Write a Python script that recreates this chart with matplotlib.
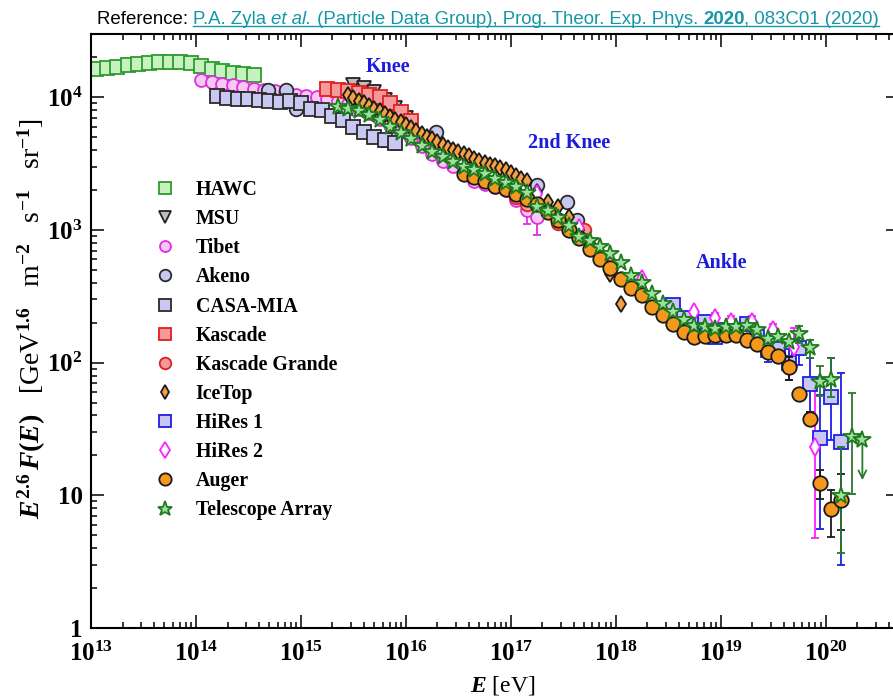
import numpy as np
import matplotlib
matplotlib.use("Agg")
import matplotlib.pyplot as plt
from matplotlib.lines import Line2D

plt.rcParams['font.family'] = ['Liberation Serif', 'DejaVu Serif']
plt.rcParams['font.weight'] = 'bold'
plt.rcParams['mathtext.fontset'] = 'custom'
plt.rcParams['mathtext.rm'] = 'Liberation Serif:bold'
plt.rcParams['mathtext.it'] = 'Liberation Serif:italic:bold'
plt.rcParams['mathtext.bf'] = 'Liberation Serif:bold'

# ---- data: log10(E/eV) and E^2.6 F(E) [GeV^1.6 m^-2 s^-1 sr^-1] ----
hawc_lgE = [13.05, 13.15, 13.25, 13.35, 13.45, 13.55, 13.65, 13.75, 13.85, 13.95,
            14.05, 14.15, 14.25, 14.35, 14.45, 14.55]
hawc_F = [16300, 16600, 17000, 17400, 17800, 18100, 18300, 18400, 18300, 18100,
          17300, 16400, 15700, 15200, 15100, 14700]

msu_lgE = [15.5, 15.6, 15.7, 15.8, 15.9, 16.0]
msu_F = [12300, 11700, 10900, 9490, 8260, 6950]

tibet_lgE = [14.05, 14.15, 14.25, 14.35, 14.45, 14.55, 14.65, 14.75, 14.85, 14.95,
             15.05, 15.15, 15.25, 15.35, 15.45, 15.55, 15.65, 15.75, 15.85, 15.95,
             16.05, 16.15, 16.25, 16.35, 16.45, 16.55, 16.65, 16.75, 16.85, 16.95,
             17.05, 17.15, 17.25]
tibet_F = [13590, 13130, 12690, 12470, 11960, 11630, 11390, 11100, 10810, 10440,
           10260, 10050, 9780, 9410, 8860, 8190, 7580, 6830, 6150, 5550,
           4910, 4270, 3720, 3330, 3050, 2720, 2350, 2210, 2100, 1990,
           1680, 1410, 1250]
tibet_err_lgE = [16.85, 16.95, 17.15, 17.25]
tibet_err_lo = [1900, 1830, 1118, 913]
tibet_err_hi = [2300, 2170, 1560, 1390]

akeno_lgE = [14.69, 14.86, 14.95, 16.29, 17.25, 17.54, 17.63]
akeno_F = [11290, 11290, 8190, 5450, 2170, 1620, 1180]

casa_lgE = [14.2, 14.3, 14.4, 14.5, 14.6, 14.7, 14.8, 14.9, 15.0, 15.1,
            15.2, 15.3, 15.4, 15.5, 15.6, 15.7, 15.8, 15.9]
casa_F = [10170, 9950, 9780, 9660, 9610, 9330, 9220, 9330, 9010, 8120,
          8050, 7260, 6710, 6000, 5450, 5000, 4740, 4500]
casa_err_lgE = [15.8, 15.9]
casa_err_lo = [4200, 3990]
casa_err_hi = [5300, 5050]

kascade_lgE = [15.25, 15.35, 15.45, 15.55, 15.65, 15.75, 15.85, 15.95, 16.05]
kascade_F = [11490, 11390, 11100, 10720, 10350, 10000, 9010, 7780, 6600]

kg_lgE = [17.05, 17.15, 17.45, 17.7, 17.95]
kg_F = [1770, 1560, 1120, 996, 552]

icetop_lgE = [15.45, 15.5, 15.55, 15.6, 15.65, 15.7, 15.75, 15.8, 15.85, 15.9,
              15.95, 16.0, 16.05, 16.1, 16.15, 16.2, 16.25, 16.3, 16.35, 16.4,
              16.45, 16.5, 16.55, 16.6, 16.65, 16.7, 16.75, 16.8, 16.85, 16.9,
              16.95, 17.0, 17.05, 17.1, 17.15, 17.25, 17.35, 17.45, 17.55, 17.65,
              17.75, 17.85, 17.95, 18.05]
icetop_F = [10350, 9880, 9430, 9000, 8580, 8190, 7850, 7490, 7120, 6780,
            6460, 6140, 5840, 5560, 5300, 5050, 4810, 4580, 4360, 4170,
            4020, 3870, 3720, 3580, 3440, 3310, 3210, 3110, 3020, 2930,
            2840, 2700, 2560, 2440, 2320, 1925, 1630, 1500, 1250, 996,
            795, 645, 464, 279]

hires1_lgE = [18.55, 18.65, 18.75, 18.85, 18.95, 19.05, 19.15, 19.25, 19.35, 19.45,
              19.55, 19.65, 19.75, 19.85, 19.95, 20.05, 20.15]
hires1_F = [271, 216, 197, 203, 156, 176, 176, 197, 157, 124,
            126, 98.6, 130, 68.9, 26.9, 55.3, 25.4]
hires1_err_lgE = [19.45, 19.65, 19.75, 19.85, 19.95, 20.05, 20.15]
hires1_err_lo = [101, 73.8, 95.8, 42.6, 5.6, 26.1, 3.0]
hires1_err_hi = [150, 126, 161, 107.5, 57, 107.5, 83.3]

hires2_lgE = [17.25, 17.65, 18.25, 18.75, 18.95, 19.1, 19.3, 19.5, 19.7, 19.9]
hires2_F = [1880, 1030, 426, 240, 217, 203, 203, 176, 131.5, 23.0]
hires2_err_lgE = [18.95, 19.1, 19.3, 19.5, 19.7, 19.9]
hires2_err_lo = [200, 190, 190, 176, 93, 4.74]
hires2_err_hi = [237, 225, 224, 194, 184, 67.7]

auger_lgE = [16.55, 16.65, 16.75, 16.85, 16.95, 17.05, 17.15, 17.25, 17.35, 17.45,
             17.55, 17.65, 17.75, 17.85, 17.95, 18.05, 18.15, 18.25, 18.35, 18.45,
             18.55, 18.65, 18.75, 18.85, 18.95, 19.05, 19.15, 19.25, 19.35, 19.45,
             19.55, 19.65, 19.75, 19.85, 19.95, 20.05, 20.15]
auger_F = [2650, 2500, 2350, 2150, 2030, 1860, 1700, 1580, 1370, 1180,
           996, 874, 716, 602, 520, 426, 367, 322, 264, 230,
           197, 171, 156.5, 158, 161, 161, 161, 148, 138, 121,
           112, 92, 57.9, 37.3, 12.4, 7.88, 9.21]
auger_err_lgE = [19.65, 19.85, 19.95, 20.05, 20.15]
auger_err_lo = [73.8, 33.8, 9.32, 4.87, 5.47]
auger_err_hi = [110.6, 42.6, 15.5, 10.95, 14.6]

ta_lgE = [15.35, 15.45, 15.55, 15.65, 15.75, 15.85, 15.95, 16.05, 16.15, 16.25,
          16.35, 16.45, 16.55, 16.65, 16.75, 16.85, 16.95, 17.05, 17.15, 17.25,
          17.35, 17.45, 17.55, 17.65, 17.75, 17.85, 17.95, 18.05, 18.15, 18.25,
          18.35, 18.45, 18.55, 18.65, 18.75, 18.85, 18.95, 19.05, 19.15, 19.25,
          19.35, 19.45, 19.55, 19.65, 19.75, 19.85, 19.95, 20.05, 20.15, 20.25,
          20.35]
ta_F = [8410, 8120, 7850, 7320, 6710, 6000, 5400, 4830, 4270, 3850,
        3550, 3270, 3000, 2840, 2660, 2410, 2260, 2110, 1900, 1490,
        1390, 1230, 1070, 887, 827, 738, 657, 562, 452, 395,
        332, 279, 241, 209, 188, 186, 179, 186, 186, 188,
        176, 150, 157, 144, 164, 128, 71.7, 73.8, 9.92, 27.6,
        26.1]
ta_err_lgE = [19.75, 19.85, 19.95, 20.05, 20.15, 20.25]
ta_err_lo = [140, 107.5, 56.2, 55.3, 3.65, 10.3]
ta_err_hi = [188, 148, 94.6, 107.5, 23.2, 59.2]
ta_ul_lgE = [20.35]
ta_ul_from = [26.1]
ta_ul_to = [13.0]

x_ticks = [1e13, 1e14, 1e15, 1e16, 1e17, 1e18, 1e19, 1e20]
x_ticklabels = [r'$10^{13}$', r'$10^{14}$', r'$10^{15}$', r'$10^{16}$',
                r'$10^{17}$', r'$10^{18}$', r'$10^{19}$', r'$10^{20}$']
y_ticks = [1, 10, 100, 1000, 10000]
y_ticklabels = ['1', '10', r'$10^{2}$', r'$10^{3}$', r'$10^{4}$']

# ---- figure ----
W, H = 893, 697
fig = plt.figure(figsize=(W / 100, H / 100), dpi=100)
ax = fig.add_axes([91 / W, 69 / H, 808 / W, 594 / H])
ax.set_xscale('log')
ax.set_yscale('log')
ax.set_xlim(1e13, 5e20)
ax.set_ylim(1, 3e4)


def E(lg):
    return 10 ** np.asarray(lg, dtype=float)


def bars(lg, lo, hi, color, z):
    lo = np.asarray(lo, dtype=float)
    hi = np.asarray(hi, dtype=float)
    ax.errorbar(E(lg), lo, yerr=[np.zeros_like(lo), hi - lo], fmt='none',
                ecolor=color, elinewidth=1.3, capsize=3.2, capthick=1.3, zorder=z)


series = [
    # lgE, F, label, marker, size, face, edge
    (hawc_lgE, hawc_F, 'HAWC', 's', 9.4, '#c6f2c0', '#2f9a2f'),
    (msu_lgE, msu_F, 'MSU', 'v', 10.0, '#bdbdbd', '#222222'),
    (tibet_lgE, tibet_F, 'Tibet', 'o', 9.3, '#f7c8f5', '#e02ee0'),
    (akeno_lgE, akeno_F, 'Akeno', 'o', 9.8, '#c8c8ec', '#2a2a33'),
    (casa_lgE, casa_F, 'CASA-MIA', 's', 9.5, '#c8c8f2', '#2a2a2a'),
    (kascade_lgE, kascade_F, 'Kascade', 's', 9.8, '#f59a9a', '#e31e1e'),
    (kg_lgE, kg_F, 'Kascade Grande', 'o', 9.8, '#f59a9a', '#e31e1e'),
    (icetop_lgE, icetop_F, 'IceTop', 'd', 8.2, '#f7a040', '#1a1a1a'),
    (hires1_lgE, hires1_F, 'HiRes 1', 's', 9.8, '#c8c8f8', '#1e1ee6'),
    (hires2_lgE, hires2_F, 'HiRes 2', 'd', 9.0, '#ffffff', '#ff1eff'),
    (auger_lgE, auger_F, 'Auger', 'o', 10.4, '#f7981e', '#1a1a1a'),
    (ta_lgE, ta_F, 'Telescope Array', '*', 13.0, '#9ee09e', '#1d7a1d'),
]

bars(tibet_err_lgE, tibet_err_lo, tibet_err_hi, '#e02ee0', 2.5)
bars(casa_err_lgE, casa_err_lo, casa_err_hi, '#2a2a2a', 4.5)
bars(hires1_err_lgE, hires1_err_lo, hires1_err_hi, '#1e1ee6', 8.5)
bars(hires2_err_lgE, hires2_err_lo, hires2_err_hi, '#ff1eff', 9.5)
bars(auger_err_lgE, auger_err_lo, auger_err_hi, '#1a1a1a', 10.5)
bars(ta_err_lgE, ta_err_lo, ta_err_hi, '#2a7a2a', 11.5)
for lg, f0, f1 in zip(ta_ul_lgE, ta_ul_from, ta_ul_to):
    ax.annotate('', xy=(E(lg), f1), xytext=(E(lg), f0),
                arrowprops=dict(arrowstyle='->', color='#2a7a2a', lw=1.3,
                                mutation_scale=14, shrinkA=0, shrinkB=0),
                zorder=11.5)

for i, (lg, f, lab, m, ms, fc, ec) in enumerate(series):
    ax.plot(E(lg), f, linestyle='none', marker=m, markersize=ms,
            markerfacecolor=fc, markeredgecolor=ec, markeredgewidth=1.3,
            label=lab, zorder=2 + i)

# feature labels
for txt, xe, yf in [('Knee', 6.7e15, 1.68e4), ('2nd Knee', 3.6e17, 4500),
                    ('Ankle', 1.02e19, 562)]:
    ax.text(xe, yf, txt, color='#1c1cdc', fontsize=14.5, ha='center', va='center')

# axes styling
ax.set_xticks(x_ticks)
ax.set_xticklabels(x_ticklabels)
ax.set_yticks(y_ticks)
ax.set_yticklabels(y_ticklabels)
ax.xaxis.set_minor_locator(matplotlib.ticker.LogLocator(base=10, subs=np.arange(2, 10), numticks=20))
ax.yaxis.set_minor_locator(matplotlib.ticker.LogLocator(base=10, subs=np.arange(2, 10), numticks=20))
ax.xaxis.set_minor_formatter(matplotlib.ticker.NullFormatter())
ax.yaxis.set_minor_formatter(matplotlib.ticker.NullFormatter())
ax.tick_params(which='both', direction='in', top=True, right=True, width=1.1,
               labelsize=18, colors='black')
ax.tick_params(which='major', length=9.5)
ax.tick_params(axis='x', which='major', pad=10)
ax.tick_params(axis='y', which='major', pad=6)
ax.tick_params(which='minor', length=4.5)
for s in ax.spines.values():
    s.set_linewidth(1.5)

ax.set_xlabel(r'$E$ [eV]', fontsize=17)
ax.xaxis.set_label_coords((503 - 91) / 808, (628 - 674) / 594)
ax.set_ylabel(r'$E^{2.6}\,F(E)$   [GeV$^{1.6}$   m$^{-2}$   s$^{-1}$   sr$^{-1}$]',
              fontsize=20)
ax.yaxis.set_label_coords((48 - 91) / 808, (628 - 318) / 594)

leg = ax.legend(loc='upper left', bbox_to_anchor=(64 / 808, (628 - 180) / 594),
                frameon=False, fontsize=14.3, numpoints=1, markerscale=0.85,
                handlelength=1.0, handletextpad=1.05, labelspacing=0.46,
                borderpad=0, borderaxespad=0)

# reference line on top
renderer = fig.canvas.get_renderer()
teal = '#1597a8'
ref_parts = [
    ('Reference: ', 'black', 'normal', 'normal'),
    ('P.A. Zyla ', teal, 'normal', 'normal'),
    ('et al.', teal, 'italic', 'normal'),
    (' (Particle Data Group), Prog. Theor. Exp. Phys. ', teal, 'normal', 'normal'),
    ('2020', teal, 'normal', 'bold'),
    (', 083C01 (2020)', teal, 'normal', 'normal'),
]
x_px = 97
y_base = 1 - 24 / H
starts = []
for txt, col, sty, wt in ref_parts:
    kw = dict(fontsize=13.4, family='Liberation Sans', style=sty, weight=wt)
    t = fig.text(x_px / W, y_base, txt, color=col, ha='left', va='baseline', **kw)
    probe = fig.text(0, 0, '|' + txt + '|', **kw)
    w1 = probe.get_window_extent(renderer).width
    probe.set_text('||')
    w2 = probe.get_window_extent(renderer).width
    probe.remove()
    starts.append(x_px)
    x_px += w1 - w2
fig.add_artist(Line2D([starts[1] / W, x_px / W], [y_base - 2 / H, y_base - 2 / H],
                      transform=fig.transFigure, color=teal, lw=1.0))

fig.savefig('out.png', dpi=100)
